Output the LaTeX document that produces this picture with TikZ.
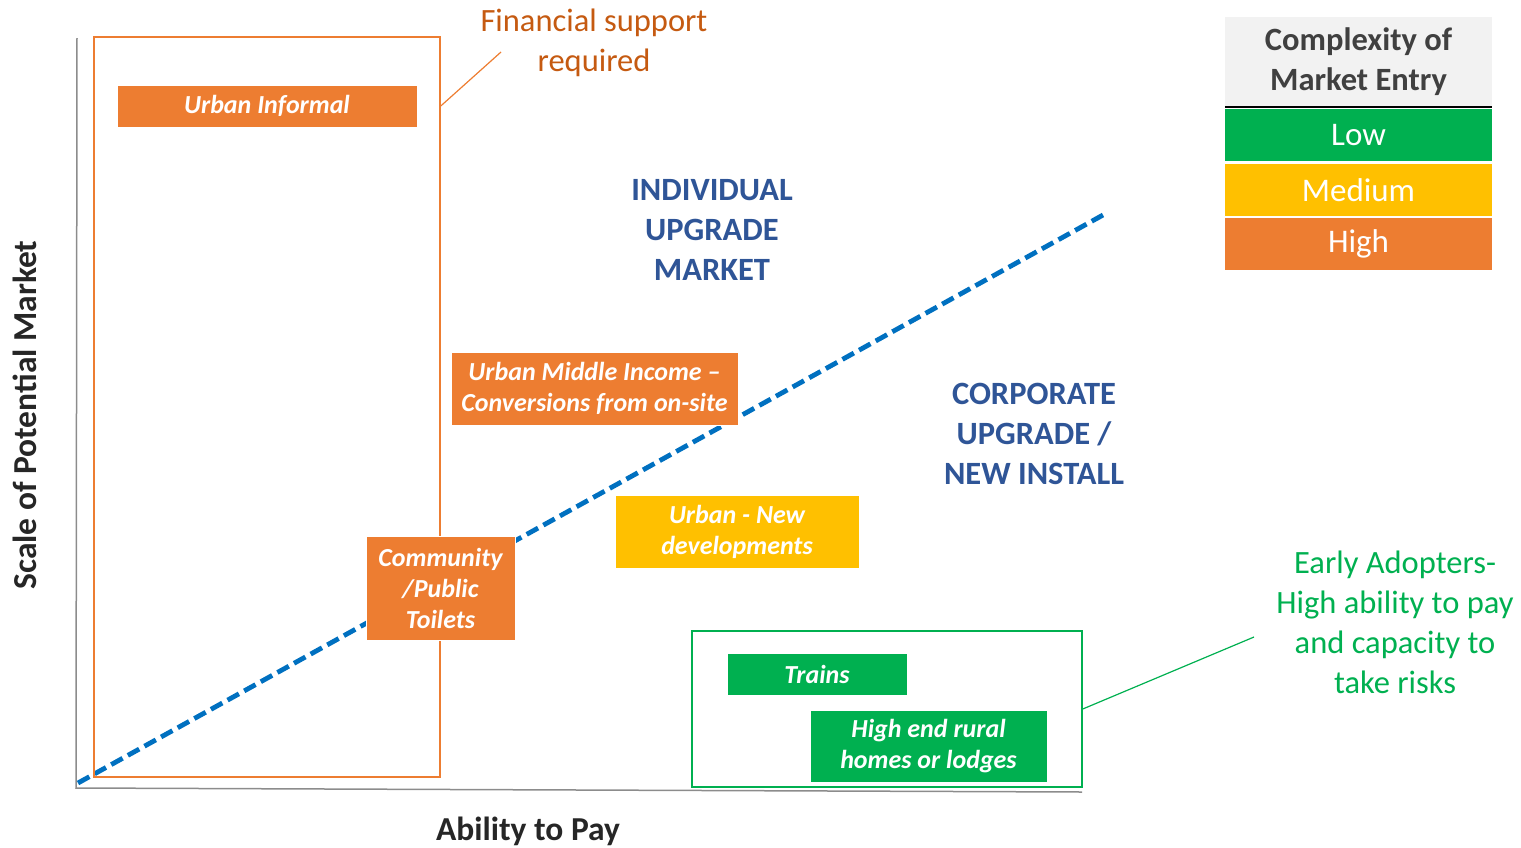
\documentclass[tikz,border=0pt]{standalone}
\usepackage{fontspec}
\setmainfont{Carlito}
\usetikzlibrary{positioning,calc}
\definecolor{mkorange}{HTML}{ED7D31}
\definecolor{mkrust}{HTML}{C55A11}
\definecolor{mkgreen}{HTML}{00B050}
\definecolor{mkyellow}{HTML}{FFC000}
\definecolor{mkblue}{HTML}{0070C0}
\definecolor{mknavy}{HTML}{2F5597}
\definecolor{mkaxis}{HTML}{8C8C8C}

\begin{document}
\begin{tikzpicture}[x=1pt,y=-1pt,
  seg/.style={fill=#1,draw=white,line width=0.8pt,text=white,align=center,inner sep=0pt,
    font=\fontsize{26}{31}\selectfont\bfseries\itshape},
  frame/.style={draw=#1,line width=1.5pt,inner sep=0pt},
  area/.style={text=mknavy,align=center,font=\fontsize{32.5}{40}\selectfont\bfseries},
  note/.style={text=#1,align=center,font=\fontsize{32.5}{40}\selectfont},
  axlabel/.style={text=black!85,font=\fontsize{33.5}{38}\selectfont\bfseries},
  key/.style={fill=#1,text=white,minimum width=267pt,minimum height=52pt,inner sep=0pt,
    font=\fontsize{33}{38}\selectfont}]
  \useasboundingbox (0,0) rectangle (1521,847);

  % axes
  \coordinate (o) at (76,788);
  \coordinate (ytop) at (77,38);
  \coordinate (xend) at (1082,792);
  \draw[mkaxis,line width=1.5pt] (ytop)--(o)--(xend);
  \node[axlabel,rotate=90] (ylab) at (25,415) {Scale of Potential Market};
  \node[axlabel] (xlab) at (528,831) {Ability to Pay};

  % market split
  \coordinate (d0) at (78,783);
  \coordinate (d1) at (1103,215);
  \draw[mkblue,line width=4.8pt,dash pattern=on 13pt off 6pt] (d0)--(d1);

  % areas that need financial support / early adopters
  \node[frame=mkorange,minimum width=346pt,minimum height=740pt] (finbox) at (267,407) {};
  \node[frame=mkgreen,minimum width=390pt,minimum height=156pt] (early) at (887,709) {};

  % segments
  \node[seg=mkorange,minimum width=300pt,minimum height=42pt] (inf) at (267,106) {Urban Informal};
  \node[seg=mkorange,minimum width=287pt,minimum height=73pt] (mid) at (594.5,388.5) {Urban Middle Income --\\Conversions from on-site};
  \node[seg=mkorange,minimum width=149pt,minimum height=104pt] (pub) at (440.5,588) {Community\\/Public\\Toilets};
  \node[seg=mkyellow,minimum width=244pt,minimum height=73pt] (newdev) at (737,531.5) {Urban - New\\developments};
  \node[seg=mkgreen,minimum width=180pt,minimum height=42pt] (trains) at (817,674) {Trains};
  \node[seg=mkgreen,minimum width=237pt,minimum height=72pt] (rural) at (928.5,746) {High end rural\\homes or lodges};

  % market names
  \node[area] (indiv) at (712,230) {INDIVIDUAL\\UPGRADE\\MARKET};
  \node[area] (corp) at (1034,434) {CORPORATE\\UPGRADE /\\NEW INSTALL};

  % callouts
  \node[note=mkrust] (fin) at (594,43) {Financial support\\required};
  \coordinate (finlead) at (501,52);
  \draw[mkorange,line width=1.2pt] (finbox.east |- inf.east)--(finlead);
  \node[note=mkgreen] (adopt) at (1395,622.5) {Early Adopters-\\High ability to pay\\and capacity to\\take risks};
  \coordinate (adlead) at (1254,637);
  \draw[mkgreen,line width=1.2pt] (early.east)--(adlead);

  % legend
  \node[fill=black!5,text=black!75,align=center,minimum width=267pt,minimum height=90pt,inner sep=0pt,
    font=\fontsize{32.5}{40}\selectfont\bfseries] (khead) at (1358.5,62) {Complexity of\\Market Entry};
  \draw[black,line width=2pt] (khead.south west)--(khead.south east);
  \node[key=mkgreen,below=2pt of khead] (klow) {Low};
  \node[key=mkyellow,below=2pt of klow] (kmed) {Medium};
  \node[key=mkorange,below=2pt of kmed] (khigh) {High};
\end{tikzpicture}
\end{document}
